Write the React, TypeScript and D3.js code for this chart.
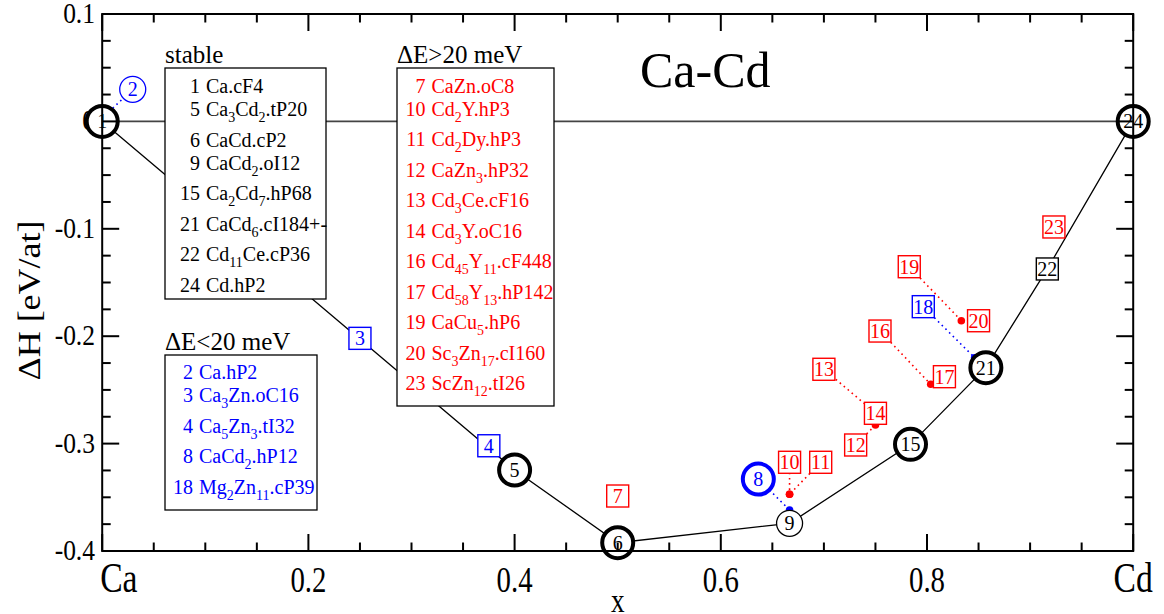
import React from 'react';
import * as d3 from 'd3';

// every structure of the Ca-Cd system, position on the composition axis and formation energy
const pointIds = [1, 2, 3, 4, 5, 6, 7, 8, 9, 10, 11, 12, 13, 14, 15, 16, 17, 18, 19, 20, 21, 22, 23, 24];
const pointX = [0, 0, 0.25, 0.375, 0.4, 0.5, 0.5, 0.6667, 0.6667, 0.6667, 0.6667, 0.75, 0.75, 0.75,
  0.784, 0.8036, 0.8169, 0.8462, 0.8333, 0.85, 0.8571, 0.9167, 0.9231, 1];
const pointDH = [0, 0.003, -0.202, -0.302, -0.3246, -0.3923, -0.3488, -0.3618, -0.3742, -0.3472, -0.3472,
  -0.2827, -0.2715, -0.2718, -0.3007, -0.2448, -0.2377, -0.22, -0.1856, -0.1856, -0.2293, -0.1374, -0.0983, 0];
// where a label was pushed off its point (null = label sits on the point)
const labelX = [null, 0.0296, null, null, null, null, null, 0.6364, null, 0.6667, 0.6969, 0.7308, 0.7,
  null, null, 0.7544, null, 0.7964, 0.7828, null, null, null, null, null];
const labelDH = [null, 0.0299, null, null, null, null, null, -0.333, null, -0.3174, -0.3174, -0.3013, -0.2308,
  null, null, -0.1952, null, -0.1725, -0.1353, null, null, null, null, null];

// convex hull, in order of composition
const hullIds = [1, 5, 6, 9, 15, 21, 22, 24];

// legends
const stableIds = [1, 5, 6, 9, 15, 21, 22, 24];
const stableNames = ['Ca.cF4', 'Ca3Cd2.tP20', 'CaCd.cP2', 'CaCd2.oI12', 'Ca2Cd7.hP68', 'CaCd6.cI184+-', 'Cd11Ce.cP36', 'Cd.hP2'];
const lowIds = [2, 3, 4, 8, 18];
const lowNames = ['Ca.hP2', 'Ca3Zn.oC16', 'Ca5Zn3.tI32', 'CaCd2.hP12', 'Mg2Zn11.cP39'];
const highIds = [7, 10, 11, 12, 13, 14, 16, 17, 19, 20, 23];
const highNames = ['CaZn.oC8', 'Cd2Y.hP3', 'Cd2Dy.hP3', 'CaZn3.hP32', 'Cd3Ce.cF16', 'Cd3Y.oC16', 'Cd45Y11.cF448',
  'Cd58Y13.hP142', 'CaCu5.hP6', 'Sc3Zn17.cI160', 'ScZn12.tI26'];

const yTicks = [0.1, 0, -0.1, -0.2, -0.3, -0.4];
const xTicks = [0, 0.2, 0.4, 0.6, 0.8, 1];
const xTickLabels = ['Ca', '0.2', '0.4', '0.6', '0.8', 'Cd'];

const serifFace = 'Times New Roman';
const FONT = { fontFamily: `'${serifFace}'` };
const RED = '#ff0000';
const BLUE = '#0000ff';

// marker kinds
const thickCircle = [1, 5, 6, 8, 15, 21, 24];
const thinCircle = [2, 9];

const width = 1164;
const height = 614;
const margin = { top: 14, right: 30.8, bottom: 63, left: 102.2 };

const x = d3.scaleLinear().domain([0, 1]).range([margin.left, width - margin.right]);
const y = d3.scaleLinear().domain([-0.4, 0.1]).range([height - margin.bottom, margin.top]);
const [x0, x1] = x.range();
const [y0, y1] = y.range();

const colorOf = (id: number) => (stableIds.includes(id) ? '#000' : lowIds.includes(id) ? BLUE : RED);

// "Ca3Cd2.tP20" -> Ca, 3 (sub), Cd, 2 (sub), .tP20
const Formula = ({ name }: { name: string }) => {
  const dot = name.indexOf('.');
  const parts = name.slice(0, dot).split(/(\d+)/).filter(p => p !== '');
  let down = false;
  const spans = parts.map((p, k) => {
    const sub = /^\d+$/.test(p);
    let dy = 0;
    if (sub && !down) { dy = 6; down = true; }
    else if (!sub && down) { dy = -6; down = false; }
    return <tspan key={k} dy={dy || undefined} fontSize={sub ? 14 : undefined}>{p}</tspan>;
  });
  spans.push(<tspan key="tail" dy={down ? -6 : undefined}>{name.slice(dot)}</tspan>);
  return <>{spans}</>;
};

const Legend = ({ title, ids, names, color, box, numX, titleY, firstY }) => {
  let by = firstY;
  const rows = ids.map((id, i) => {
    const row = (
      <g key={id} fill={color}>
        <text x={numX} y={by} textAnchor="end" fontSize={20} style={FONT}>{id}</text>
        <text x={numX + 6} y={by} fontSize={20} style={FONT}><Formula name={names[i]} /></text>
      </g>
    );
    by += /\d/.test(names[i].split('.')[0]) ? 30.5 : 23;
    return row;
  });
  return (
    <g>
      <text x={box.x} y={titleY} fontSize={25} style={FONT}>{title}</text>
      <rect x={box.x} y={box.y} width={box.w} height={box.h} fill="#fff" stroke="#000" strokeWidth={1.3} />
      {rows}
    </g>
  );
};

const App = () => {
  const hullPath = d3.line<number>()
    .x(id => x(pointX[id - 1]))
    .y(id => y(pointDH[id - 1]))(hullIds);

  const xMinor = d3.range(0, 21).map(k => k * 0.05);
  const yMinor = d3.range(0, 21).map(k => -0.4 + k * 0.025);
  const isMajor = (v: number, step: number) => Math.abs(v / step - Math.round(v / step)) < 1e-6;

  return (
    <svg width={width} height={height} style={{ position: 'absolute', left: 0, top: 0, background: '#fff', ...FONT }}>
      {/* tick labels */}
      {yTicks.map(v => (
        <g key={v} transform={`translate(95, ${y(v) + 9}) scale(0.85, 1)`}>
          <text textAnchor="end" fontSize={30} style={FONT}>{v === 0 ? '0' : d3.format('.1f')(v).replace('−', '-')}</text>
        </g>
      ))}
      {xTicks.map((v, i) => {
        const edge = i === 0 || i === xTicks.length - 1;
        return (
          <g key={v} transform={`translate(${i === 0 ? x(v) - 2 : x(v)}, 592) scale(0.8, 1)`}>
            <text textAnchor={i === 0 ? 'start' : 'middle'} fontSize={edge ? 42 : 36} style={FONT}>{xTickLabels[i]}</text>
          </g>
        );
      })}
      <g transform={`translate(${(x0 + x1) / 2}, 612) scale(0.8, 1)`}>
        <text textAnchor="middle" fontSize={34} style={FONT}>x</text>
      </g>
      <g transform={`translate(40, ${(y0 + y1) / 2 + 18}) rotate(-90) scale(1, 0.85)`}>
        <text textAnchor="middle" fontSize={36} style={FONT}>ΔH [eV/at]</text>
      </g>

      {/* zero line and hull */}
      <line x1={x0} x2={x1} y1={y(0)} y2={y(0)} stroke="#444" strokeWidth={1.8} />
      <path d={hullPath} fill="none" stroke="#000" strokeWidth={1.3} />

      <text x={640} y={87} fontSize={50} style={FONT}>Ca-Cd</text>

      <Legend title="stable" ids={stableIds} names={stableNames} color="#000"
        box={{ x: 165, y: 68, w: 161, h: 231 }} numX={200} titleY={63} firstY={93} />
      <Legend title="ΔE>20 meV" ids={highIds} names={highNames} color={RED}
        box={{ x: 397, y: 68, w: 157, h: 338 }} numX={425.5} titleY={63} firstY={92.5} />
      <Legend title="ΔE<20 meV" ids={lowIds} names={lowNames} color={BLUE}
        box={{ x: 165, y: 355, w: 152, h: 155 }} numX={193} titleY={350} firstY={379} />

      {/* dotted leaders from moved labels to their points */}
      {pointIds.map((id, i) => labelX[i] == null ? null : (
        <g key={`lead${id}`} stroke={colorOf(id)} fill={colorOf(id)}>
          <line x1={x(labelX[i])} y1={y(labelDH[i])} x2={x(pointX[i])} y2={y(pointDH[i])}
            strokeWidth={1.6} strokeDasharray="1.6,3.6" />
          <circle cx={x(pointX[i])} cy={y(pointDH[i])} r={3.8} stroke="none" />
        </g>
      ))}

      {/* markers */}
      {pointIds.map((id, i) => {
        const color = colorOf(id);
        const cx = x(labelX[i] ?? pointX[i]);
        const cy = y(labelDH[i] ?? pointDH[i]);
        let shape;
        if (thickCircle.includes(id)) shape = <circle r={15.5} fill="#fff" stroke={color} strokeWidth={4} />;
        else if (thinCircle.includes(id)) shape = <circle r={13} fill="#fff" stroke={color} strokeWidth={1.3} />;
        else shape = <rect x={-11} y={-11} width={22} height={22} fill="#fff" stroke={color} strokeWidth={1.4} />;
        return (
          <g key={id} transform={`translate(${cx}, ${cy})`}>
            {shape}
            <text textAnchor="middle" dy="0.35em" fontSize={20} fill={color} style={FONT}>{id}</text>
          </g>
        );
      })}

      {/* frame and inward ticks on all sides */}
      <g stroke="#000" strokeWidth={2}>
        <rect x={x0} y={y1} width={x1 - x0} height={y0 - y1} fill="none" />
        {xMinor.map(v => {
          const len = isMajor(v, 0.2) ? 17 : 8.5;
          return (
            <g key={`x${v}`}>
              <line x1={x(v)} x2={x(v)} y1={y0} y2={y0 - len} />
              <line x1={x(v)} x2={x(v)} y1={y1} y2={y1 + len} />
            </g>
          );
        })}
        {yMinor.map(v => {
          const len = isMajor(v, 0.1) ? 17 : 8.5;
          return (
            <g key={`y${v}`}>
              <line y1={y(v)} y2={y(v)} x1={x0} x2={x0 + len} />
              <line y1={y(v)} y2={y(v)} x1={x1} x2={x1 - len} />
            </g>
          );
        })}
      </g>
    </svg>
  );
};

export default App;
